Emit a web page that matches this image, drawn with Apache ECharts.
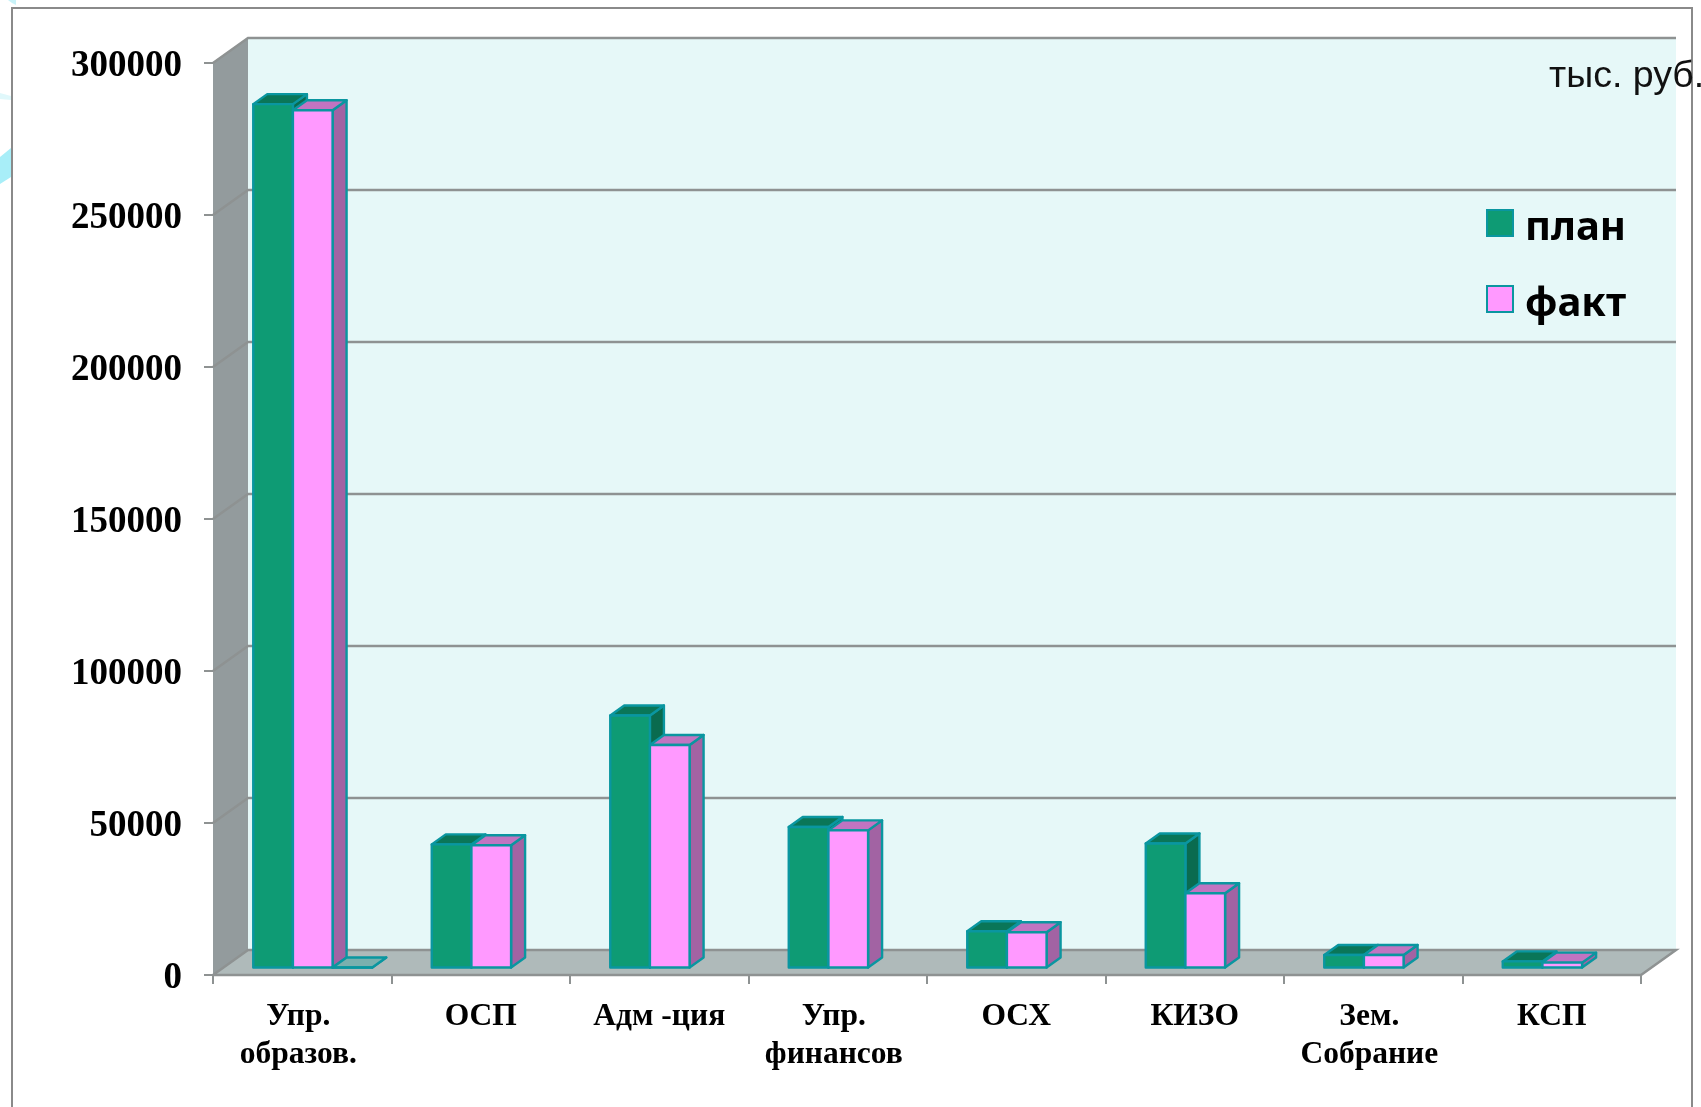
<!DOCTYPE html>
<html><head><meta charset="utf-8">
<style>html,body{margin:0;padding:0;background:#fff}#c{width:1701px;height:1107px}</style>
<script src="https://cdn.jsdelivr.net/npm/echarts@6/dist/echarts.min.js"></script>
</head><body><div id="c"></div>
<script>
const categories = ['Упр. \nобразов. ','ОСП','Адм -ция','Упр. \nфинансов ','ОСХ','КИЗО','Зем. \nСобрание ','КСП'];
const plan = [284000,40500,82900,46200,11900,40800,4100,2000];
const fact = [282000,40200,73200,45100,11600,24400,4100,1600];
const extra = [0,null,null,null,null,null,null,null];
const yTicks = [0,50000,100000,150000,200000,250000,300000];

const DX=35, DY=25, BDX=14, BDY=10, OX=10.5, OY=7.5;
const EDGE='#0A96A0';
const GRIDC='#8E9292';
const palettes=[
 {front:'#0E9B74',top:'#0A7658',side:'#0A6B4F'},
 {front:'#FF99FF',top:'#C174C1',side:'#A263A3'},
 {front:'#7AB0AE',top:'#7AB0AE',side:'#7AB0AE'}
];
function poly(pts,fill,stroke,w){return {type:'polygon',shape:{points:pts},style:{fill:fill,stroke:stroke||null,lineWidth:w||0,lineJoin:'round'}};}

function barRenderer(si){
 return function(params,api){
  const v=api.value(1);
  if(v===null||v===undefined||isNaN(v))return;
  const idx=api.value(0);
  const band=api.size([1,0])[0];
  const w=band*0.2222;
  const base=api.coord([idx,0]);
  const top=api.coord([idx,v]);
  const x0=base[0]+OX+(si-1.5)*w, x1=x0+w;
  const y0=base[1]-OY, y1=top[1]-OY;
  const p=palettes[si];
  const ch=[];
  ch.push(poly([[x1,y0],[x1+BDX,y0-BDY],[x1+BDX,y1-BDY],[x1,y1]],p.side,EDGE,2.4));
  ch.push(poly([[x0,y1],[x0+BDX,y1-BDY],[x1+BDX,y1-BDY],[x1,y1]],p.top,EDGE,2.4));
  ch.push(poly([[x0,y0],[x1,y0],[x1,y1],[x0,y1]],p.front,EDGE,2.4));
  return {type:'group',children:ch};
 };
}
function wallRenderer(params,api){
 const c=params.coordSys, l=c.x,t=c.y,r=c.x+c.width,b=c.y+c.height;
 return {type:'group',children:[
  poly([[l+DX,t-DY],[r+DX,t-DY],[r+DX,b-DY],[l+DX,b-DY]],'#E6F8F8'),
  poly([[l,t],[l+DX,t-DY],[l+DX,b-DY],[l,b]],'#939B9D'),
  poly([[l,b],[l+DX,b-DY],[r+DX,b-DY],[r,b]],'#AFBABA')
 ]};
}
function gridRenderer(params,api){
 const c=params.coordSys;
 const y=api.coord([0,api.value(1)])[1];
 const l=c.x,r=c.x+c.width;
 const ln={stroke:GRIDC,lineWidth:2.5,fill:null};
 if(api.value(1)===0){
  return {type:'group',children:[
   {type:'polyline',shape:{points:[[l,y],[l+DX,y-DY],[r+DX,y-DY],[r,y],[l,y]]},style:ln}
  ]};
 }
 return {type:'polyline',shape:{points:[[l,y],[l+DX,y-DY],[r+DX,y-DY]]},style:ln};
}

const chart=echarts.init(document.getElementById('c'),null,{renderer:'canvas'});
const SERIF='"Liberation Serif"';
chart.setOption({
 animation:false,
 backgroundColor:'#fff',
 title:{text:'тыс. руб.',left:1544,top:53,textStyle:{fontFamily:'"Liberation Sans"',fontSize:37.5,fontWeight:'normal',color:'#111'}},
 legend:{data:['план','факт'],orient:'vertical',left:1481,top:204,itemWidth:26,itemHeight:26,itemGap:36,
  icon:'rect',selectedMode:false,
  formatter:function(n){return '{t|'+n+'}';},
  textStyle:{rich:{t:{fontFamily:'"Noto Sans"',fontSize:40,fontWeight:'bold',color:'#000',padding:[12,0,0,7]}}}},
 grid:{left:213,top:63,width:1428,height:912},
 xAxis:{type:'category',data:categories,boundaryGap:true,
  axisLine:{show:false},
  axisTick:{show:true,length:9,lineStyle:{color:GRIDC,width:2}},
  splitLine:{show:false},
  axisLabel:{interval:0,margin:23,color:'#000',fontFamily:SERIF,fontWeight:'bold',fontSize:31.5,lineHeight:38}},
 yAxis:{type:'value',min:0,max:300000,interval:50000,
  axisLine:{show:false},
  axisTick:{show:true,length:9,lineStyle:{color:GRIDC,width:2}},
  splitLine:{show:false},
  axisLabel:{margin:31,formatter:function(v){return '{n|'+v+'}';},
   rich:{n:{color:'#000',fontFamily:SERIF,fontWeight:'bold',fontSize:37,padding:[6,0,0,0]}}}},
 graphic:[
  {type:'polygon',z:-1,shape:{points:[[0,93],[11,96],[11,100],[0,99]]},style:{fill:'#E0F8FB'}},
  {type:'polygon',z:-1,shape:{points:[[0,157],[11,148],[11,177],[0,184]]},style:{fill:'#A8EEF8'}},
  {type:'polygon',z:-1,shape:{points:[[8,0],[16,0],[16,5],[12,3]]},style:{fill:'#C8F2F8'}},
  {type:'rect',z:-1,shape:{x:12,y:8,width:1680,height:1110},style:{fill:'#fff',stroke:'#8A8A8A',lineWidth:2}}
 ],
 series:[
  {type:'custom',name:'стены',z:1,silent:true,renderItem:wallRenderer,data:[[0,0]],encode:{x:0,y:1}},
  {type:'custom',name:'сетка',z:2,silent:true,renderItem:gridRenderer,data:yTicks.map(v=>[0,v]),encode:{x:0,y:1}},
  {type:'custom',name:'план',z:3,renderItem:barRenderer(0),itemStyle:{color:palettes[0].front,borderColor:EDGE,borderWidth:1.5},
   data:plan.map((v,i)=>[i,v]),encode:{x:0,y:1}},
  {type:'custom',name:'факт',z:3,renderItem:barRenderer(1),itemStyle:{color:palettes[1].front,borderColor:EDGE,borderWidth:1.5},
   data:fact.map((v,i)=>[i,v]),encode:{x:0,y:1}},
  {type:'custom',name:'ряд3',z:3,renderItem:barRenderer(2),
   data:extra.map((v,i)=>[i,v]),encode:{x:0,y:1}}
 ]
});
</script></body></html>
